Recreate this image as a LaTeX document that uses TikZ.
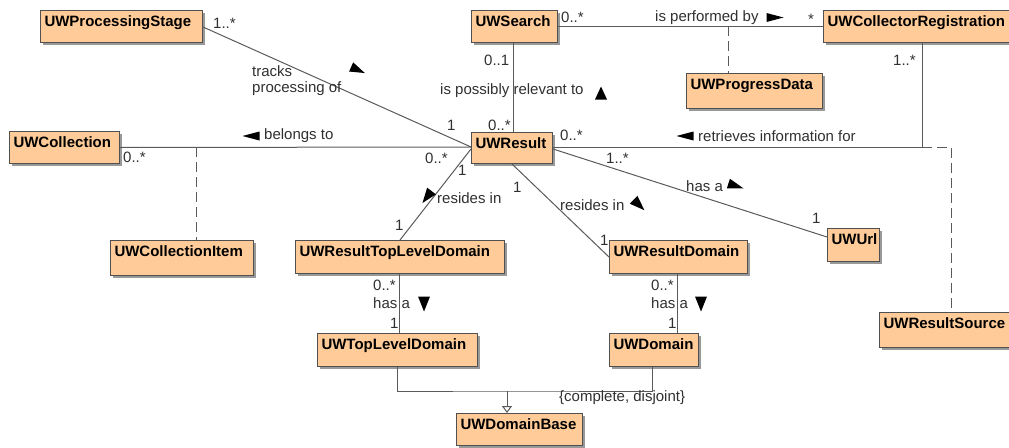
\documentclass[tikz,border=0pt]{standalone}
\usepackage{fontspec}
\setmainfont{Liberation Sans}
\usetikzlibrary{shadows,arrows.meta}
\definecolor{boxfill}{HTML}{FFCC99}
\definecolor{boxline}{HTML}{505050}
\definecolor{conncol}{HTML}{5A5A5A}
\definecolor{lblcol}{HTML}{303030}
\newcommand\dirtri[4]{\fill[black, shift={#1}, rotate=#2] (#3,0) -- (-#3,#4) -- (-#3,-#4) -- cycle;}
\tikzset{
  cls/.style={draw=boxline, line width=1pt, fill=boxfill, anchor=north west,
    inner xsep=4pt, inner ysep=0pt, text height=16pt, align=left,
    font=\bfseries\fontsize{15}{18}\selectfont,
    drop shadow={shadow xshift=2pt, shadow yshift=-2pt, fill=black!40, opacity=1}},
  conn/.style={draw=conncol, line width=1pt},
  dashconn/.style={draw=conncol, line width=1pt, dash pattern=on 10pt off 5pt},
  lab/.style={anchor=base west, inner sep=0pt, text=lblcol, font=\fontsize{15}{18}\selectfont},
}
\begin{document}
\begin{tikzpicture}[x=1pt, y=-1pt]
\useasboundingbox (0,0) rectangle (1009,447);
% classes
\node[cls, text width=154pt, text depth=16pt] (ps) at (40,10) {UWProcessingStage};
\node[cls, text width=78pt, text depth=16pt] (search) at (471,10) {UWSearch};
\node[cls, text width=182pt, text depth=16pt] (cr) at (823,10) {UWCollectorRegistration};
\node[cls, text width=128pt, text depth=19pt] (pd) at (686,73) {UWProgressData};
\node[cls, text width=102pt, text depth=16pt] (coll) at (9,131) {UWCollection};
\node[cls, text width=73pt, text depth=15pt] (res) at (471,132) {UWResult};
\node[cls, text width=135pt, text depth=19pt] (ci) at (110,240) {UWCollectionItem};
\node[cls, text width=201pt, text depth=17pt] (rtld) at (295,240) {UWResultTopLevelDomain};
\node[cls, text width=130pt, text depth=17pt] (rd) at (609,240) {UWResultDomain};
\node[cls, text width=44pt, text depth=17pt] (url) at (827,228) {UWUrl};
\node[cls, text width=126pt, text depth=19pt] (rs) at (879,312) {UWResultSource};
\node[cls, text width=152pt, text depth=17pt] (tld) at (317,333) {UWTopLevelDomain};
\node[cls, text width=81pt, text depth=17pt] (dom) at (609,333) {UWDomain};
\node[cls, text width=118pt, text depth=16pt] (db) at (456,413) {UWDomainBase};
% connectors
\coordinate (rw) at ([yshift=-15pt]res.north west);
\draw[conn] ([yshift=-17pt]ps.north east) -- (rw);
\draw[conn] (coll.east) -- (rw);
\coordinate (cij) at (196,147);
\draw[dashconn] (cij) -- (cij |- ci.north);
\draw[conn] ([xshift=42pt]search.south west) -- ([xshift=42pt]res.north west);
\draw[conn] (search.east) -- (cr.west);
\coordinate (pdj) at (728,26);
\draw[dashconn] (pdj) -- (pdj |- pd.north);
\coordinate (crc) at (922,147);
\draw[conn] ([xshift=99pt]cr.south west) -- (crc) -- ([yshift=-15pt]res.north east);
\draw[dashconn] (crc) -| ([xshift=72pt]rs.north west);
\draw[conn] ([yshift=-17pt]res.north east) -- ([yshift=-9pt]url.north west);
\draw[conn] ([yshift=-17pt]res.north west) -- ([xshift=105pt]rtld.north west);
\draw[conn] ([xshift=41pt]res.south west) -- ([yshift=-17pt]rd.north west);
\draw[conn] ([xshift=104pt]rtld.south west) -- ([xshift=82pt]tld.north west);
\draw[conn] ([xshift=68pt]rd.south west) -- ([xshift=68pt]dom.north west);
\coordinate (gj) at (507,391);
\draw[conn] ([xshift=80pt]tld.south west) |- (gj) -| ([xshift=43pt]dom.south west);
\draw[conn, -{Triangle[open, length=7pt, width=10pt]}] (gj) -- (gj |- db.north);
% labels
\node[lab] (m1) at (213,28) {1..*};
\node[lab] (t1) at (252,76) {tracks};
\node[lab] (t2) at (252,92) {processing of};
\dirtri{(358,70)}{-24}{7.5}{5}
\node[lab] (m2) at (447,130) {1};
\dirtri{(251,136)}{180}{8.5}{4.5}
\node[lab] (t3) at (264,139) {belongs to};
\node[lab] (m3) at (123,162) {0..*};
\node[lab] (m4) at (425,163) {0..*};
\node[lab] (m5) at (484,65) {0..1};
\node[lab] (t4) at (440,94) {is possibly relevant to};
\dirtri{(601,93)}{90}{6.5}{6}
\node[lab] (m6) at (488,130) {0..*};
\node[lab] (m7) at (561,22) {0..*};
\node[lab] (t5) at (655,21) {is performed by};
\dirtri{(775,17.5)}{0}{8.5}{4.5}
\node[lab] (m8) at (808,24) {*};
\node[lab] (m9) at (893,65) {1..*};
\dirtri{(685,136)}{180}{8.5}{4.5}
\node[lab] (t6) at (698,141) {retrieves information for};
\node[lab] (m10) at (560,140) {0..*};
\node[lab] (m11) at (606,163) {1..*};
\node[lab] (t7) at (686,191) {has a};
\dirtri{(736,186)}{-18}{8}{5}
\node[lab] (m12) at (812,223) {1};
\node[lab] (m13) at (458,175) {1};
\node[lab] (t8) at (437,203) {resides in};
\dirtri{(427,197)}{-127}{7.5}{5.5}
\node[lab] (m14) at (395,230) {1};
\node[lab] (m15) at (513,192) {1};
\node[lab] (t9) at (560,210) {resides in};
\dirtri{(639,205)}{-44}{7.5}{5.5}
\node[lab] (m16) at (600,245) {1};
\node[lab] (m17) at (373,290) {0..*};
\node[lab] (t10) at (373,308) {has a};
\dirtri{(424,304)}{-90}{7.5}{6}
\node[lab] (m18) at (390,328) {1};
\node[lab] (m19) at (651,290) {0..*};
\node[lab] (t11) at (651,308) {has a};
\dirtri{(701,304)}{-90}{7.5}{6}
\node[lab] (m20) at (668,328) {1};
\node[lab] (t12) at (559,401) {\{complete, disjoint\}};
\end{tikzpicture}
\end{document}
